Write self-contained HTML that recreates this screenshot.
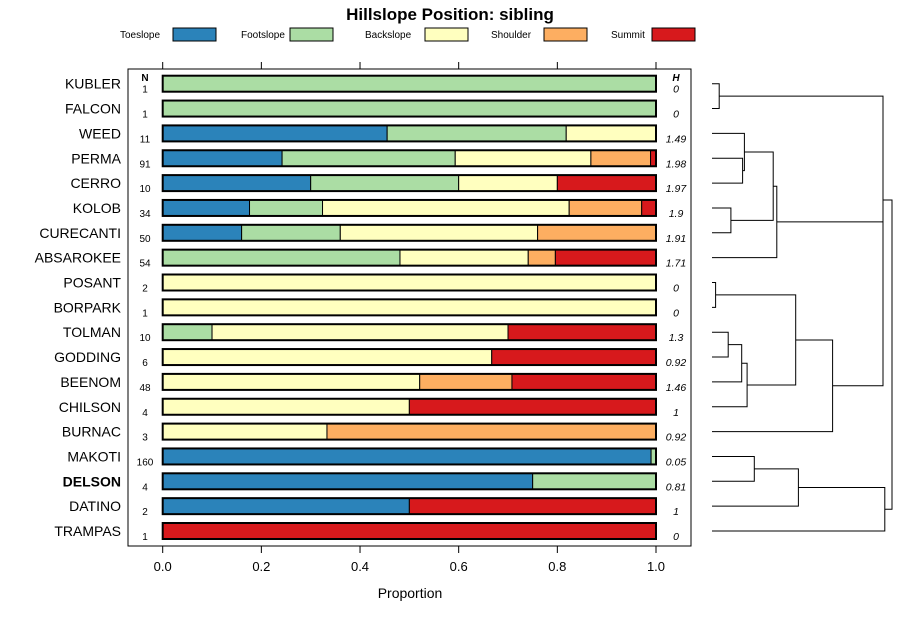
<!DOCTYPE html>
<html><head><meta charset="utf-8"><style>
body{margin:0;background:#fff}
svg text{font-family:"Liberation Sans",sans-serif}
</style></head><body>
<svg id="c" width="900" height="620" xmlns="http://www.w3.org/2000/svg">
<text x="450" y="20" text-anchor="middle" font-size="17" font-weight="bold">Hillslope Position: sibling</text>
<g id="legend"></g>
<rect x="128" y="69" width="563" height="477" fill="none" stroke="#000"/>
<g id="bars"></g>
<g id="axis"></g>
<g id="dend"></g>
<text x="410" y="598" text-anchor="middle" font-size="14">Proportion</text>
<text x="145" y="81" text-anchor="middle" font-size="10" font-weight="bold">N</text>
<text x="676" y="81" text-anchor="middle" font-size="10" font-weight="bold" font-style="italic">H</text>
</svg>
<script>
const categories=["Toeslope","Footslope","Backslope","Shoulder","Summit"];
const colors=["#2B83BA","#ABDDA4","#FFFFBF","#FDAE61","#D7191C"];
const series=["KUBLER","FALCON","WEED","PERMA","CERRO","KOLOB","CURECANTI","ABSAROKEE","POSANT","BORPARK","TOLMAN","GODDING","BEENOM","CHILSON","BURNAC","MAKOTI","DELSON","DATINO","TRAMPAS"];
const toeslope=[0,0,0.455,0.242,0.3,0.176,0.16,0,0,0,0,0,0,0,0,0.99,0.75,0.5,0];
const footslope=[1,1,0.363,0.351,0.3,0.148,0.2,0.481,0,0,0.1,0,0,0,0,0.01,0.25,0,0];
const backslope=[0,0,0.182,0.275,0.2,0.5,0.4,0.26,1,1,0.6,0.667,0.521,0.5,0.333,0,0,0,0];
const shoulder=[0,0,0,0.121,0,0.147,0.24,0.055,0,0,0,0,0.187,0,0.667,0,0,0,0];
const summit=[0,0,0,0.011,0.2,0.029,0,0.204,0,0,0.3,0.333,0.292,0.5,0,0,0,0.5,1];
const nValues=["1","1","11","91","10","34","50","54","2","1","10","6","48","4","3","160","4","2","1"];
const hValues=["0","0","1.49","1.98","1.97","1.9","1.91","1.71","0","0","1.3","0.92","1.46","1","0.92","0.05","0.81","1","0"];
const tickLabels=["0.0","0.2","0.4","0.6","0.8","1.0"];
const tickValues=[0,0.2,0.4,0.6,0.8,1.0];
const merges=[[-1,-2,0.04],[-4,-5,0.17],[-3,2,0.18],[-6,-7,0.105],[3,4,0.34],[5,-8,0.36],[-9,-10,0.02],[-11,-12,0.09],[8,-13,0.165],[9,-14,0.195],[7,10,0.465],[11,-15,0.67],[6,12,0.95],[1,13,0.95],[-16,-17,0.235],[15,-18,0.48],[16,-19,0.96],[14,17,1.0]];
const NS="http://www.w3.org/2000/svg";
const x=v=>162.7+v*493.3;
const y=i=>83.7+i*24.85;
const dx=h=>712+h*180;
function mk(t,a,p){const e=document.createElementNS(NS,t);for(const k in a)e.setAttribute(k,a[k]);p.appendChild(e);return e;}
const bars=document.getElementById('bars');
const allSeries=[toeslope,footslope,backslope,shoulder,summit];
series.forEach((s,i)=>{
  let t=mk('text',{x:121,y:y(i)+5,'text-anchor':'end','font-size':14,'font-weight':s==="DELSON"?"bold":"normal"},bars);t.textContent=s;
  
  
  let n=mk('text',{x:145,y:y(i)+9,'text-anchor':'middle','font-size':10},bars);n.textContent=nValues[i];
  
  
  let h=mk('text',{x:676,y:y(i)+9,'text-anchor':'middle','font-size':10.5,'font-style':'italic'},bars);h.textContent=hValues[i];
  
  
  let c=0;
  allSeries.forEach((arr,k)=>{
    const v=arr[i]; if(v<=0)return;
    const r=mk('rect',{x:x(c),y:y(i)-8,width:x(c+v)-x(c),height:16,fill:colors[k],stroke:'#000','stroke-width':1},bars);
    
    
    c+=v;
  });
  const o=mk('rect',{x:x(0),y:y(i)-8,width:x(1)-x(0),height:16,fill:'none',stroke:'#000','stroke-width':2},bars);
  
  
});
const ax=document.getElementById('axis');
tickValues.forEach((v,i)=>{
  mk('line',{x1:x(v),x2:x(v),y1:546,y2:553,stroke:'#000'},ax);
  mk('line',{x1:x(v),x2:x(v),y1:62,y2:69,stroke:'#000'},ax);
  const t=mk('text',{x:x(v),y:571,'text-anchor':'middle','font-size':13},ax);t.textContent=tickLabels[i];
  
  
});
const lg=document.getElementById('legend');
const lgX=[120,241,365,491,611];
const lgR=[173,290,425,544,652];
categories.forEach((c,i)=>{
  const t=mk('text',{x:lgX[i],y:38,'font-size':10},lg);t.textContent=c;
  
  
  const r=mk('rect',{x:lgR[i],y:28,width:43,height:13,fill:colors[i],stroke:'#000'},lg);
  
  
});
const dg=document.getElementById('dend');
const pos=[];
function nodeInfo(id){ if(id<0)return {x:712,y:y(-id-1)}; return pos[id-1]; }
merges.forEach((m,j)=>{
  const a=nodeInfo(m[0]),b=nodeInfo(m[1]),hx=dx(m[2]);
  const p=mk('path',{d:`M${a.x},${a.y}H${hx}V${b.y}H${b.x}`,fill:'none',stroke:'#000','stroke-width':1},dg);
  
  
  pos[j]={x:hx,y:(a.y+b.y)/2};
});
</script>
</body></html>
